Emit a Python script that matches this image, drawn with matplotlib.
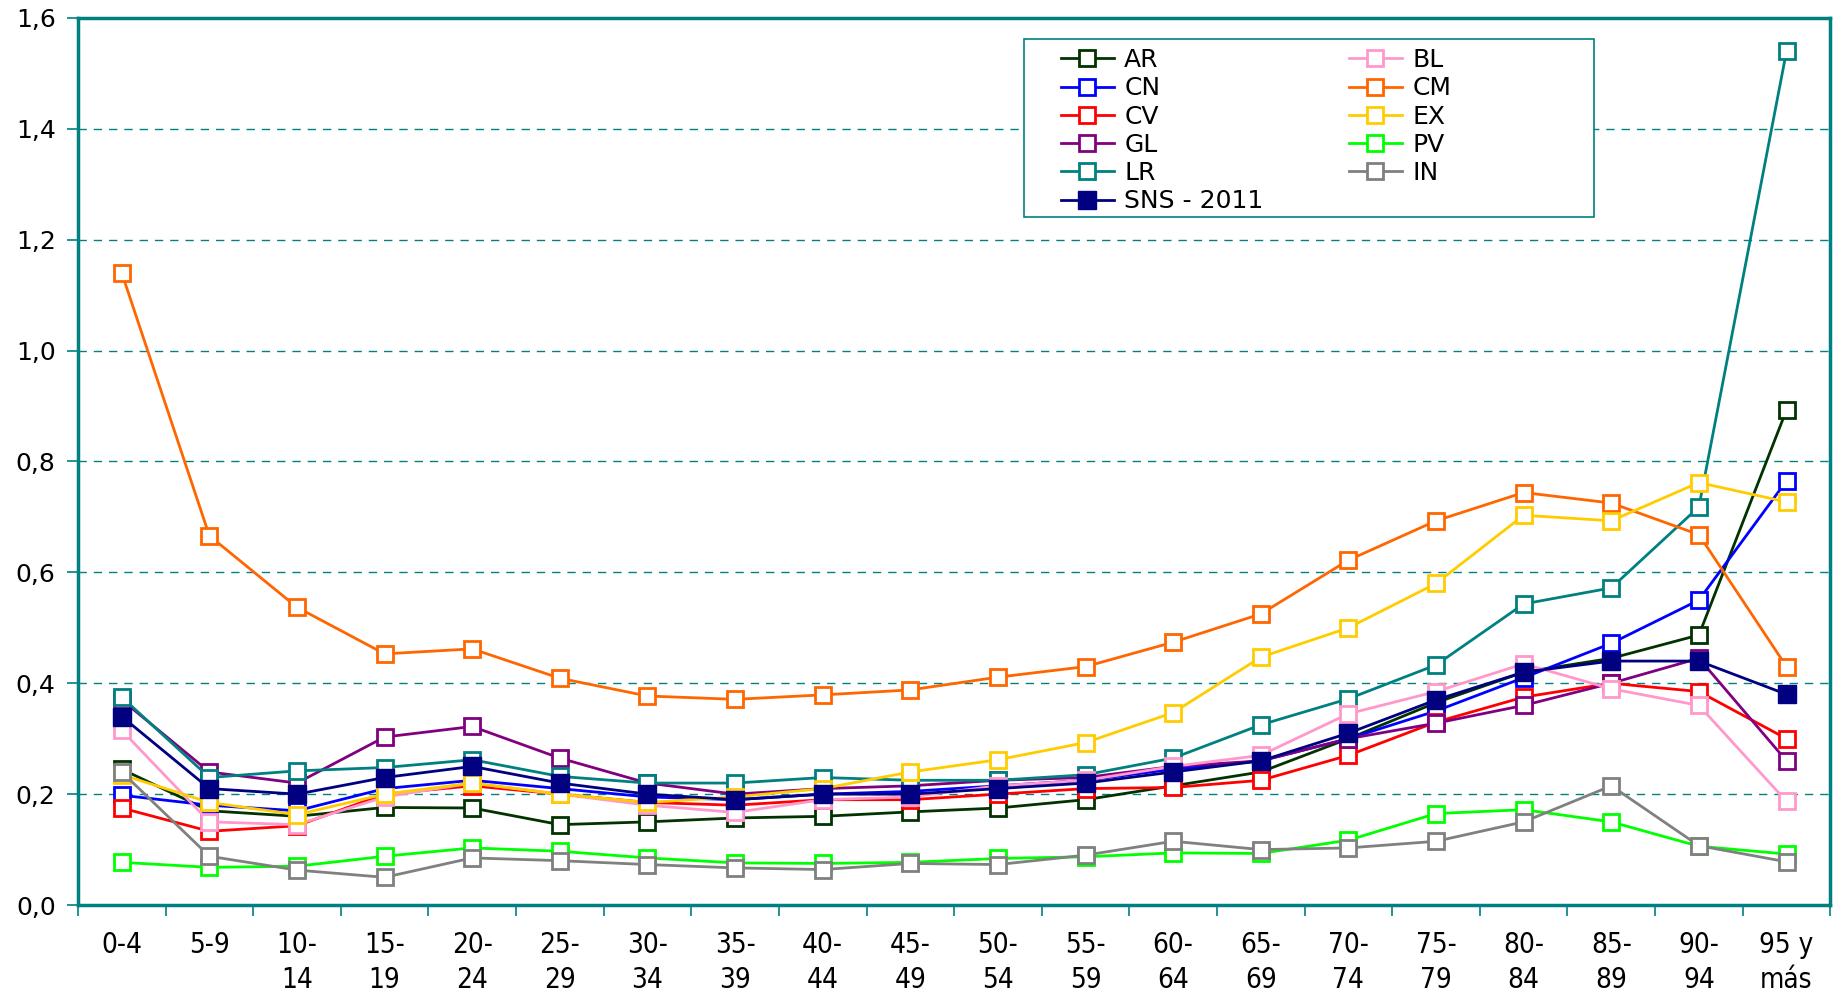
import numpy as np
import matplotlib.pyplot as plt
from matplotlib.patches import Rectangle

# age groups
grupos = ['0-4', '5-9', '10-\n14', '15-\n19', '20-\n24', '25-\n29', '30-\n34', '35-\n39',
          '40-\n44', '45-\n49', '50-\n54', '55-\n59', '60-\n64', '65-\n69', '70-\n74',
          '75-\n79', '80-\n84', '85-\n89', '90-\n94', '95 y\nmás']

AR = [0.245, 0.170, 0.160, 0.176, 0.175, 0.145, 0.150, 0.157, 0.160, 0.168,
      0.175, 0.190, 0.215, 0.240, 0.300, 0.365, 0.420, 0.445, 0.487, 0.893]
CN = [0.198, 0.180, 0.170, 0.210, 0.225, 0.210, 0.195, 0.190, 0.200, 0.205,
      0.215, 0.225, 0.245, 0.260, 0.300, 0.350, 0.410, 0.472, 0.550, 0.765]
CV = [0.175, 0.133, 0.143, 0.200, 0.215, 0.200, 0.185, 0.180, 0.190, 0.190,
      0.200, 0.210, 0.212, 0.225, 0.270, 0.330, 0.375, 0.400, 0.385, 0.300]
GL = [0.370, 0.240, 0.220, 0.303, 0.322, 0.265, 0.220, 0.200, 0.210, 0.215,
      0.225, 0.230, 0.250, 0.260, 0.300, 0.328, 0.360, 0.400, 0.445, 0.260]
LR = [0.375, 0.230, 0.242, 0.248, 0.262, 0.232, 0.220, 0.220, 0.230, 0.225,
      0.225, 0.235, 0.265, 0.325, 0.372, 0.433, 0.543, 0.572, 0.718, 1.540]
SNS = [0.340, 0.210, 0.200, 0.230, 0.250, 0.220, 0.200, 0.190, 0.200, 0.200,
       0.210, 0.220, 0.240, 0.260, 0.310, 0.370, 0.420, 0.440, 0.440, 0.380]
BL = [0.315, 0.150, 0.145, 0.195, 0.220, 0.200, 0.180, 0.167, 0.190, 0.195,
      0.215, 0.225, 0.250, 0.270, 0.345, 0.385, 0.435, 0.390, 0.360, 0.187]
CM = [1.140, 0.666, 0.537, 0.453, 0.462, 0.409, 0.377, 0.371, 0.379, 0.388,
      0.411, 0.430, 0.474, 0.525, 0.622, 0.693, 0.744, 0.725, 0.668, 0.430]
EX = [0.235, 0.185, 0.163, 0.200, 0.220, 0.200, 0.185, 0.195, 0.210, 0.240,
      0.262, 0.293, 0.347, 0.447, 0.500, 0.580, 0.703, 0.693, 0.762, 0.727]
PV = [0.077, 0.068, 0.070, 0.088, 0.103, 0.097, 0.085, 0.076, 0.075, 0.077,
      0.084, 0.087, 0.094, 0.093, 0.117, 0.165, 0.172, 0.150, 0.106, 0.092]
IN = [0.240, 0.088, 0.063, 0.050, 0.085, 0.080, 0.073, 0.067, 0.064, 0.075,
      0.073, 0.090, 0.115, 0.100, 0.103, 0.115, 0.150, 0.215, 0.107, 0.078]

series = [('AR', AR, '#003300'), ('CN', CN, '#0000FF'), ('CV', CV, '#FF0000'),
          ('GL', GL, '#800080'), ('LR', LR, '#008080'), ('SNS - 2011', SNS, '#000080'),
          ('BL', BL, '#FF99CC'), ('CM', CM, '#FF6600'), ('EX', EX, '#FFCC00'),
          ('PV', PV, '#00FF00'), ('IN', IN, '#808080')]

teal = '#008080'
x = np.arange(len(grupos))

fig = plt.figure(figsize=(18.34, 9.94), dpi=100)
ax = fig.add_axes([0.0425, 0.0895, 0.9555, 0.8925])

for nombre, vals, col in series:
    if nombre.startswith('SNS'):
        ax.plot(x, vals, color=col, lw=2, marker='s', ms=13, mfc=col, mec=col, label=nombre, zorder=4)
    else:
        ax.plot(x, vals, color=col, lw=2, marker='s', ms=11, mfc='white', mec=col, mew=2,
                label=nombre, zorder=3)

ax.set_xlim(-0.5, len(grupos) - 0.5)
ax.set_ylim(0, 1.6)

# y axis
yt = np.arange(0, 1.61, 0.2)
ax.set_yticks(yt)
ax.set_yticklabels([('%.1f' % v).replace('.', ',') for v in yt], fontsize=18,
                   family='DejaVu Sans')
for v in yt[1:-1]:
    ax.axhline(v, color=teal, lw=1, ls=(0, (6, 5)), zorder=1)

# x axis: tick marks between groups, labels centred
ax.set_xticks(np.arange(-0.5, len(grupos), 1.0))
ax.set_xticklabels([])
ax.set_xticks(x, minor=True)
ax.set_xticklabels(grupos, minor=True, fontsize=20, linespacing=1.3,
                   family='DejaVu Sans', fontstretch='condensed')
ax.tick_params(axis='x', which='minor', length=0, pad=19)
ax.tick_params(axis='x', which='major', length=8, color=teal, width=1.2)
ax.tick_params(axis='y', length=8, color=teal, width=1.2, pad=8)

for s in ax.spines.values():
    s.set_color(teal)
    s.set_linewidth(2.5)

# legend box drawn separately, it is wider than its entries
ax.add_patch(Rectangle((0.540, 0.775), 0.325, 0.201, transform=ax.transAxes,
                       fill=True, facecolor='white', edgecolor=teal, lw=1.2, zorder=5))
leg = ax.legend(ncol=2, loc='upper left', bbox_to_anchor=(0.5607, 0.966),
                fontsize=18, frameon=False, borderpad=0,
                columnspacing=3.4, handlelength=2.15, handletextpad=0.4,
                labelspacing=0.17, borderaxespad=0)
leg.set_zorder(6)

fig.savefig('out.png', dpi=100)
